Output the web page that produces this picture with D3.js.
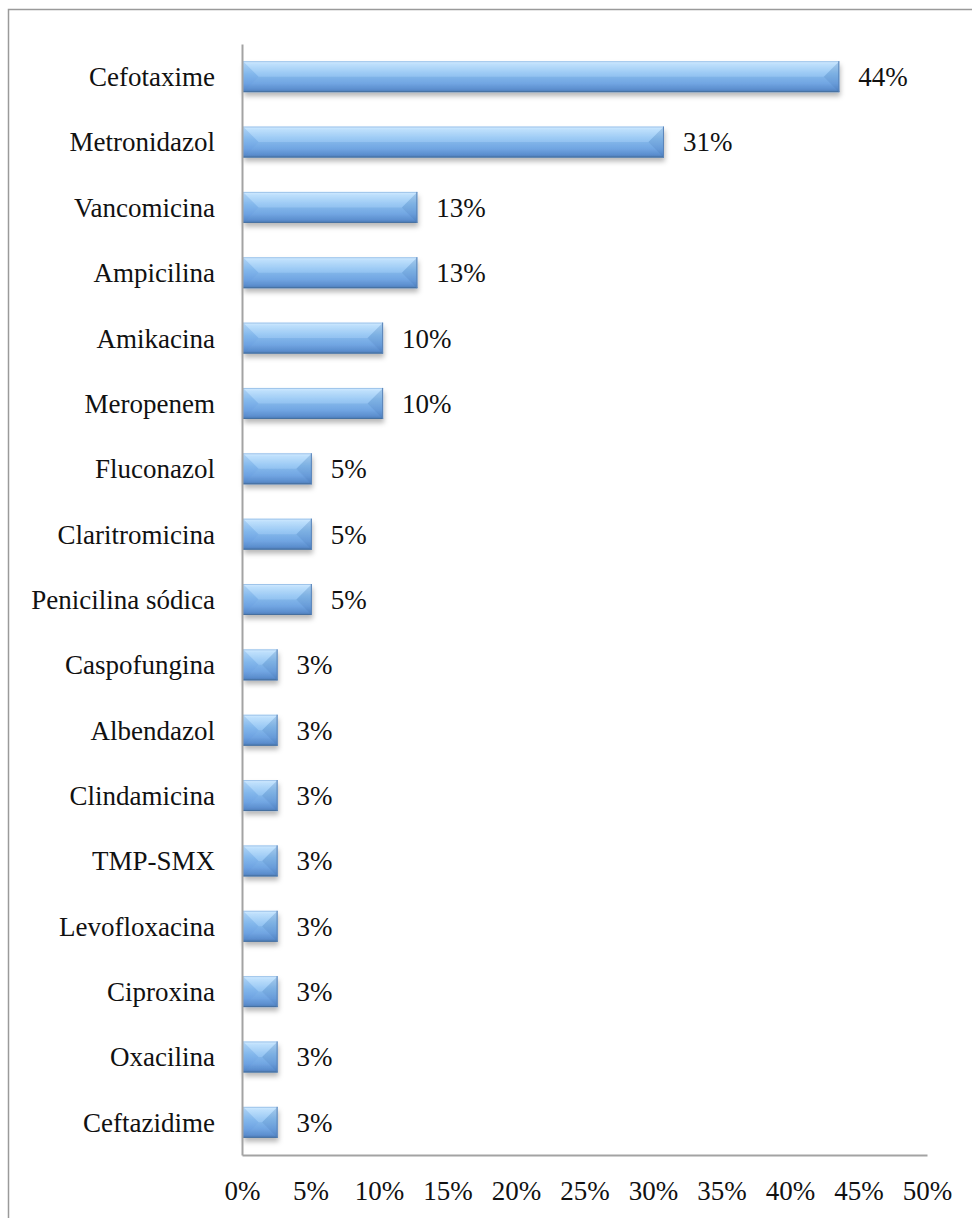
<!DOCTYPE html>
<html>
<head>
<meta charset="utf-8">
<script src="https://cdn.jsdelivr.net/npm/d3@7"></script>
<style>
  html, body { margin: 0; padding: 0; background: #fff; }
  svg { display: block; }
  text { font-family: "Liberation Serif", "Times New Roman", serif; fill: #111; }
</style>
</head>
<body>
<div id="chart"></div>
<script>
// Antibiotic usage shares
const categories = [
  "Cefotaxime", "Metronidazol", "Vancomicina", "Ampicilina", "Amikacina",
  "Meropenem", "Fluconazol", "Claritromicina", "Penicilina sódica",
  "Caspofungina", "Albendazol", "Clindamicina", "TMP-SMX", "Levofloxacina",
  "Ciproxina", "Oxacilina", "Ceftazidime"
];
const shares = [
  0.436, 0.308, 0.128, 0.128, 0.103,
  0.103, 0.051, 0.051, 0.051,
  0.026, 0.026, 0.026, 0.026, 0.026,
  0.026, 0.026, 0.026
];
const xTicks = [0, 0.05, 0.10, 0.15, 0.20, 0.25, 0.30, 0.35, 0.40, 0.45, 0.50];

const W = 972, H = 1218;
const FS = 27;
const svg = d3.select("#chart").append("svg").attr("width", W).attr("height", H);
const defs = svg.append("defs");

// Vertical gradient for the bar body
const grad = defs.append("linearGradient").attr("id", "barGrad")
  .attr("x1", 0).attr("y1", 0).attr("x2", 0).attr("y2", 1);
[[0, "#cfe9ff"], [0.1, "#b6dcfc"], [0.4, "#8fc3f3"], [0.72, "#76aae7"], [0.9, "#6193d3"], [1, "#4f7db8"]]
  .forEach(([o, c]) => grad.append("stop").attr("offset", o).attr("stop-color", c));

// Soft drop shadow under each bar
const f = defs.append("filter").attr("id", "shadow")
  .attr("x", "-10%").attr("y", "-20%").attr("width", "130%").attr("height", "160%");
f.append("feDropShadow").attr("dx", 1).attr("dy", 4).attr("stdDeviation", 2.5)
  .attr("flood-color", "#000").attr("flood-opacity", 0.28);

// Outer frame (open at the right and bottom)
svg.append("path")
  .attr("d", `M8.5,${H} L8.5,9.5 L${W},9.5`)
  .attr("fill", "none").attr("stroke", "#9a9a9a").attr("stroke-width", 1.5);

const x = d3.scaleLinear().domain([0, 0.5]).range([242, 927]);
const y = d3.scaleBand().domain(categories).range([44, 1155])
  .paddingInner(0.526).paddingOuter(0.263);
const fmt = d3.format(".0%");

// Bars with a soft bevel
const bars = svg.append("g").selectAll("g").data(categories).join("g");
bars.each(function (c, i) {
  const g = d3.select(this);
  const x0 = x(0) + 1, x1 = x(shares[i]);
  const y0 = y(c), y1 = y(c) + y.bandwidth();
  const w = x1 - x0, h = y1 - y0;
  const b = Math.min(h / 2, w / 2);
  g.append("rect").attr("x", x0).attr("y", y0).attr("width", w).attr("height", h)
    .attr("fill", "url(#barGrad)").attr("filter", "url(#shadow)");
  const face = (pts, fill, op) => g.append("polygon")
    .attr("points", pts.map(p => p.join(",")).join(" "))
    .attr("fill", fill).attr("fill-opacity", op);
  face([[x0, y0], [x1, y0], [x1 - b, y0 + b], [x0 + b, y0 + b]], "#ffffff", 0.1);
  face([[x0, y1], [x1, y1], [x1 - b, y1 - b], [x0 + b, y1 - b]], "#1d4f8f", 0.05);
  face([[x0, y0], [x0 + b, y0 + b], [x0, y1]], "#2f6fc0", 0.12);
  face([[x1, y0], [x1 - b, y0 + b], [x1, y1]], "#1d4f8f", 0.16);
  // crisp edges: light top, darker bottom
  g.append("line").attr("x1", x0).attr("x2", x1).attr("y1", y0 + 0.5).attr("y2", y0 + 0.5)
    .attr("stroke", "#9ec4ea").attr("stroke-width", 1);
  g.append("line").attr("x1", x0).attr("x2", x1).attr("y1", y1 - 0.5).attr("y2", y1 - 0.5)
    .attr("stroke", "#46709f").attr("stroke-width", 1);
  g.append("line").attr("x1", x1 - 0.5).attr("x2", x1 - 0.5).attr("y1", y0).attr("y2", y1)
    .attr("stroke", "#5a84b8").attr("stroke-width", 1);
});

// Value labels
svg.append("g").selectAll("text").data(categories).join("text")
  .attr("x", (c, i) => x(shares[i]) + 19)
  .attr("y", c => y(c) + y.bandwidth() / 2)
  .attr("dy", "0.35em")
  .attr("font-size", FS)
  .text((c, i) => fmt(shares[i]));

// Category labels
svg.append("g").selectAll("text").data(categories).join("text")
  .attr("x", 215)
  .attr("y", c => y(c) + y.bandwidth() / 2)
  .attr("dy", "0.35em")
  .attr("text-anchor", "end")
  .attr("font-size", FS)
  .text(c => c);

// Axes
const xAxis = d3.axisBottom(x).tickValues(xTicks).tickFormat(fmt).tickSize(0).tickPadding(26);
const gx = svg.append("g").attr("transform", "translate(0,1155)").call(xAxis);
gx.select(".domain").attr("stroke", "#a3a3a3").attr("stroke-width", 2);
gx.selectAll("text").attr("font-size", FS).attr("font-family", "Liberation Serif, serif").attr("fill", "#111");

const yAxis = d3.axisLeft(y).tickSize(0).tickFormat("");
const gy = svg.append("g").attr("transform", "translate(242,0)").call(yAxis);
gy.select(".domain").attr("stroke", "#a3a3a3").attr("stroke-width", 2);
</script>
</body>
</html>
